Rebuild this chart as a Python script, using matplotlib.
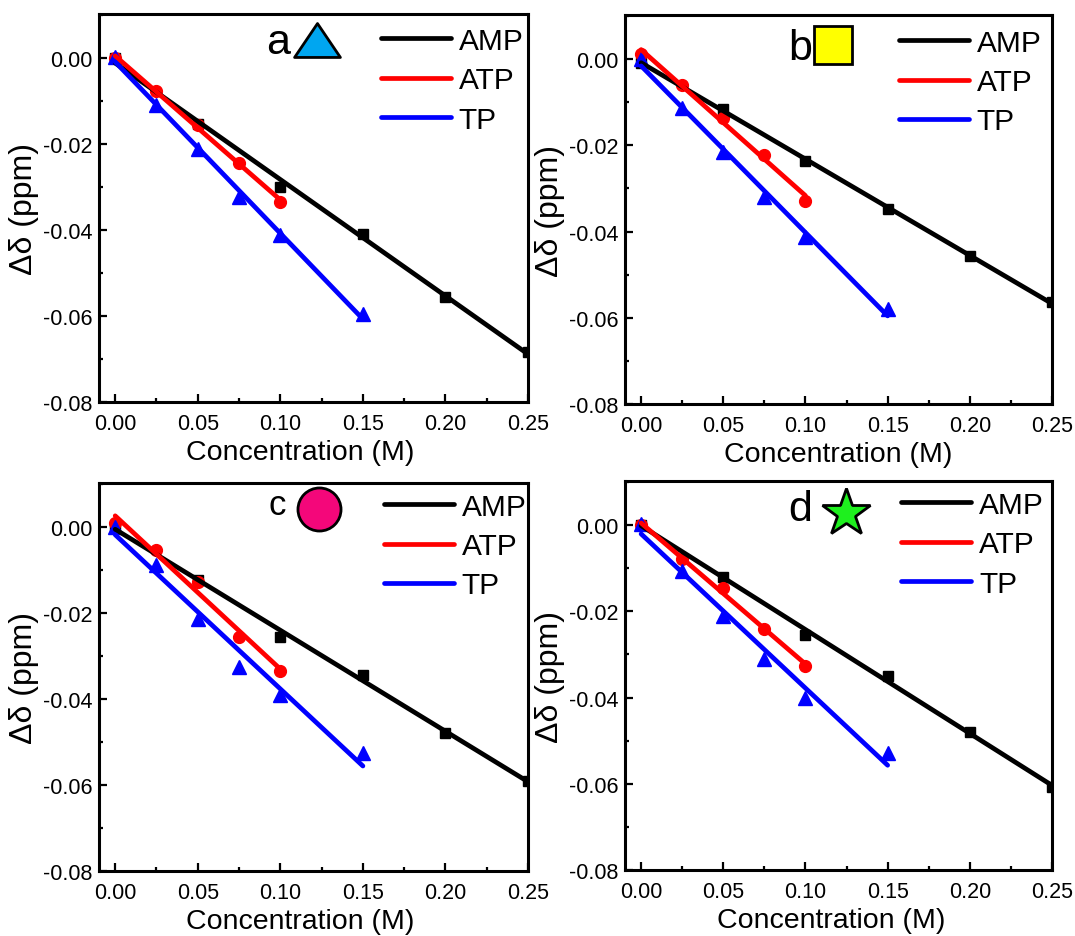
import numpy as np
import matplotlib
matplotlib.use("Agg")
import matplotlib.pyplot as plt
from matplotlib.path import Path
from matplotlib.ticker import MultipleLocator, FormatStrFormatter

plt.rcParams["font.family"] = ["Liberation Sans", "DejaVu Sans"]
plt.rcParams["axes.unicode_minus"] = False

# Concentrations (M) for each series
conc_amp = [0.0, 0.05, 0.10, 0.15, 0.20, 0.25]
conc_atp = [0.0, 0.025, 0.05, 0.075, 0.10]
conc_tp = [0.0, 0.025, 0.05, 0.075, 0.10, 0.15]

# Chemical shift changes (ppm), panel a
amp_a = [0.0, -0.0153, -0.0300, -0.0409, -0.0556, -0.0684]
atp_a = [0.0, -0.0077, -0.0157, -0.0244, -0.0335]
tp_a = [0.0002, -0.0110, -0.0211, -0.0323, -0.0412, -0.0596]

# panel b
amp_b = [-0.0008, -0.0115, -0.0237, -0.0347, -0.0457, -0.0563]
atp_b = [0.0012, -0.0060, -0.0136, -0.0223, -0.0330]
tp_b = [0.0000, -0.0113, -0.0216, -0.0320, -0.0413, -0.0579]

# panel c
amp_c = [0.0, -0.0124, -0.0255, -0.0345, -0.0479, -0.0591]
atp_c = [0.0010, -0.0054, -0.0128, -0.0255, -0.0335]
tp_c = [0.0, -0.0089, -0.0213, -0.0325, -0.0390, -0.0526]

# panel d
amp_d = [0.0, -0.0121, -0.0255, -0.0351, -0.0481, -0.0608]
atp_d = [0.0, -0.0079, -0.0146, -0.0241, -0.0328]
tp_d = [0.0002, -0.0107, -0.0210, -0.0310, -0.0400, -0.0529]

series_names = ["AMP", "ATP", "TP"]
panel_letters = ["a", "b", "c", "d"]

# flattened triangle used as the symbol of panel a
tri_path = Path([(-1.0, -0.74), (1.0, -0.74), (0.0, 0.74), (-1.0, -0.74)],
                [Path.MOVETO, Path.LINETO, Path.LINETO, Path.CLOSEPOLY])

panels = [
    dict(rect=[0.0921, 0.5699, 0.3991, 0.4140], data=(amp_a, atp_a, tp_a),
         letter=(0.389, 0.899, 31), sym=(0.507, 0.934, tri_path, 33, "#00A6F0"),
         leg=(0.657, 0.967), xlab=0.469),
    dict(rect=[0.5814, 0.5678, 0.3972, 0.4150], data=(amp_b, atp_b, tp_b),
         letter=(0.382, 0.887, 31), sym=(0.487, 0.923, "s", 28, "#FFFF00"),
         leg=(0.642, 0.965), xlab=0.5),
    dict(rect=[0.0921, 0.0694, 0.3991, 0.4140], data=(amp_c, atp_c, tp_c),
         letter=(0.394, 0.920, 25), sym=(0.512, 0.932, "o", 31, "#F4077A"),
         leg=(0.664, 0.975), xlab=0.469),
    dict(rect=[0.5814, 0.0705, 0.3972, 0.4150], data=(amp_d, atp_d, tp_d),
         letter=(0.382, 0.900, 31), sym=(0.517, 0.919, "*", 36, "#1EF01E"),
         leg=(0.647, 0.975), xlab=0.482),
]

colors = ["black", "#FF0000", "#0000FF"]
markers = ["s", "o", "^"]
msizes = [7.5, 8.5, 9.5]
concs = [conc_amp, conc_atp, conc_tp]

fig = plt.figure(figsize=(10.75, 9.37), dpi=100)

for letter, p in zip(panel_letters, panels):
    ax = fig.add_axes(p["rect"])
    fit_lines = []
    for name, x, y, c, m, ms in zip(series_names, concs, p["data"], colors, markers, msizes):
        x = np.asarray(x)
        y = np.asarray(y)
        ax.plot(x, y, ls="none", marker=m, ms=ms, color=c, mec=c, zorder=3)
        coef = np.polyfit(x, y, 1)
        xf = np.array([x.min(), x.max()])
        ln, = ax.plot(xf, np.polyval(coef, xf), color=c, lw=3.4,
                      solid_capstyle="round", label=name, zorder=4)
        fit_lines.append(ln)

    ax.set_xlim(-0.0098, 0.25)
    ax.set_ylim(-0.08, 0.0102)
    ax.xaxis.set_major_locator(MultipleLocator(0.05))
    ax.xaxis.set_minor_locator(MultipleLocator(0.025))
    ax.yaxis.set_major_locator(MultipleLocator(0.02))
    ax.yaxis.set_minor_locator(MultipleLocator(0.01))
    ax.xaxis.set_major_formatter(FormatStrFormatter("%.2f"))
    ax.yaxis.set_major_formatter(FormatStrFormatter("%.2f"))
    ax.tick_params(which="both", direction="in", top=False, right=False,
                   width=1.6, labelsize=15.5)
    ax.tick_params(which="major", length=5.5)
    ax.tick_params(which="minor", length=3)
    ax.tick_params(axis="x", which="major", pad=8)
    ax.tick_params(axis="y", which="major", pad=4.5)
    for s in ax.spines.values():
        s.set_linewidth(2.2)

    ax.set_xlabel("Concentration (M)", fontsize=20.5, labelpad=5)
    ax.xaxis.set_label_coords(p["xlab"], -0.095)
    ax.set_ylabel("Δδ (ppm)", fontsize=23, labelpad=3)

    lx, ly, lfs = p["letter"]
    ax.text(lx, ly, letter, transform=ax.transAxes, fontsize=lfs,
            ha="left", va="baseline")
    sx, sy, smark, ssize, scol = p["sym"]
    ax.plot([sx], [sy], transform=ax.transAxes, marker=smark, ms=ssize,
            mfc=scol, mec="black", mew=2, ls="none", clip_on=False, zorder=5)

    bx, by = p["leg"]
    ax.legend(handles=fit_lines, loc="upper left", bbox_to_anchor=(bx, by),
              frameon=False, fontsize=21.5, handlelength=2.35,
              handletextpad=0.25, labelspacing=0.38, borderpad=0,
              borderaxespad=0)

fig.savefig("out.png", dpi=100)
